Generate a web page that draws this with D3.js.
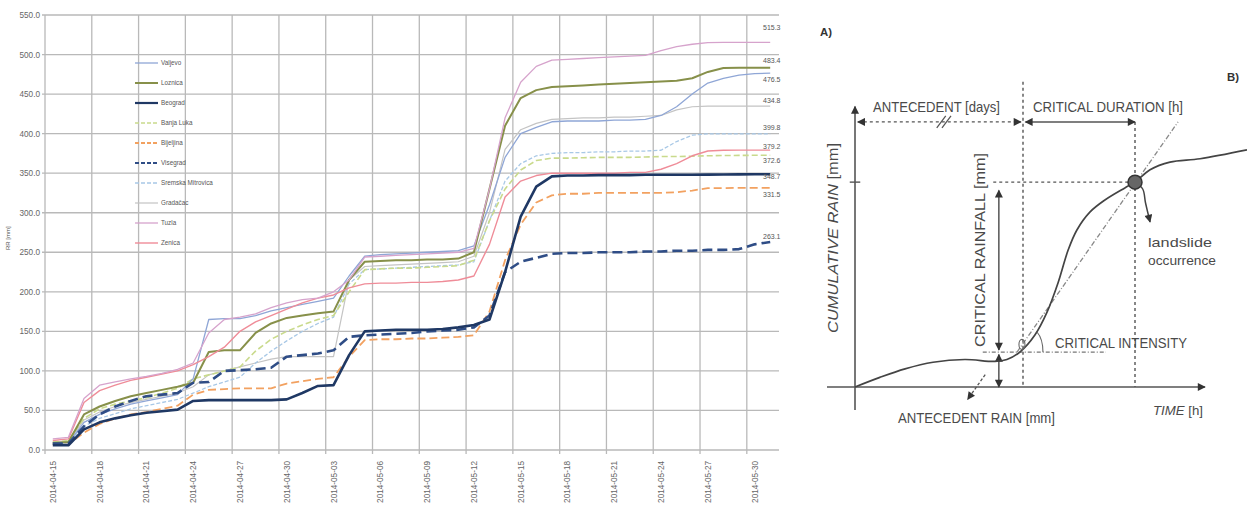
<!DOCTYPE html>
<html><head><meta charset="utf-8">
<script src="https://cdn.jsdelivr.net/npm/d3@7"></script>
<style>body{margin:0;background:#fff}svg{display:block}</style>
</head><body>
<svg id="c" width="1247" height="510"></svg>
<script>
// ---------------- DATA (left chart) ----------------
const stations = ["Valjevo","Loznica","Beograd","Banja Luka","Bijeljina","Visegrad","Sremska Mitrovica","Gradačac","Tuzla","Zenica"];
const valjevo = [8,9,35,45,52,58,62,66,70,90, 165,166,166,170,176,180,184,188,192,220, 245,247,248,249,250,251,252,258,310,370, 400,408,415,416,416,416,417,417,418,423, 434,450,464,470,474,476,476.5];
const loznica = [9,10,45,55,62,68,72,76,80,85, 124,126,126,148,160,167,170,173,175,215, 238,239,240,240,241,241,242,250,330,410, 445,455,459,460,461,462,463,464,465,466, 467,470,478,483,483.4,483.4,483.4];
const beograd = [6,6,26,35,40,44,47,49,51,62, 63,63,63,63,63,64,72,81,82,120, 150,151,152,152,152,153,155,158,165,225, 295,333,346,347,347,347.5,347.5,347.5,348,348, 348,348,348.2,348.4,348.5,348.6,348.7];
const banjaLuka = [10,12,40,52,58,62,66,72,78,90, 95,100,105,125,140,150,158,165,170,200, 228,229,230,230,231,232,233,240,290,330, 354,366,369,369,369.5,370,370,370,370.5,371, 371,371.5,372,372.3,372.5,372.6,372.6];
const bijeljina = [7,7,22,33,40,45,48,52,56,70, 76,77,78,78,78,84,87,90,92,118, 139,140,140,141,141,142,143,145,175,240, 285,313,322,324,324,325,325,325,325,325, 326,328,331,331,331.5,331.5,331.5];
const visegrad = [8,8,30,45,55,62,68,70,72,85, 86,100,101,102,104,118,120,122,126,143, 145,146,147,148,150,151,152,155,170,225, 238,243,248,249,249,250,250,250,251,251, 252,252,253,253,254,260,263.1];
const sremska = [9,10,30,40,46,52,56,60,64,72, 80,86,92,110,125,138,150,160,168,210, 228,229,230,231,232,233,234,238,290,340, 362,372,375,376,376,377,377,378,378,379, 390,398,399.8,399.8,399.8,399.8,399.8];
const gradacac = [10,11,38,48,55,60,64,68,72,80, 95,100,105,110,115,118,118,118,118,215, 232,233,234,235,236,237,238,245,300,380, 405,413,418,419,420,420,421,421,422,423, 430,434,434.8,434.8,434.8,434.8,434.8];
const tuzla = [14,16,65,82,86,90,93,97,102,110, 148,165,168,172,180,186,190,192,200,215, 244,245,246,247,248,249,250,255,330,420, 465,485,493,494,495,496,497,498,499,505, 510,513,515,515.3,515.3,515.3,515.3];
const zenica = [12,14,60,75,82,88,92,96,100,108, 118,130,150,162,170,178,186,192,196,205, 210,211,211,212,212,213,215,220,260,320, 340,347,350,350,350,350,350,351,351,355, 362,372,378,379,379.2,379.2,379.2];
const seriesValues = [valjevo,loznica,beograd,banjaLuka,bijeljina,visegrad,sremska,gradacac,tuzla,zenica];
const yTicks = [0,50,100,150,200,250,300,350,400,450,500,550];
const xTickLabels = ["2014-04-15","2014-04-18","2014-04-21","2014-04-24","2014-04-27","2014-04-30","2014-05-03","2014-05-06","2014-05-09","2014-05-12","2014-05-15","2014-05-18","2014-05-21","2014-05-24","2014-05-27","2014-05-30"];
const days = d3.timeDay.range(new Date(2014,3,15), new Date(2014,5,1));

// styles (kept apart from data)
const colors = ["#8fa6d6","#87904a","#1f3864","#c9da8c","#f2a160","#2f4d86","#a8c8e6","#c4c4c4","#d6a3cc","#ef8c98"];
const widths = [1.3,2,2.6,1.6,1.8,2.6,1.3,1.2,1.3,1.4];
const dashes = [null,null,null,"6,3","8,4","10,5","4,2",null,null,null];
const labelDy = [7,-7,3,6,7.5,-4.5,-6,-5.5,-14,-3.5];

const svg = d3.select("#c");
const fmt = d3.format(".1f");
const xb = d3.scaleBand().domain(days.map(d=>+d)).range([45,778]).paddingInner(0).paddingOuter(0);
const xc = i => xb(+days[i]) + xb.bandwidth()/2;
const y = d3.scaleLinear().domain([0,550]).range([450,15]);

// grid
const g = svg.append("g");
g.selectAll("line.h").data(yTicks).join("line")
  .attr("x1",42).attr("x2",779).attr("y1",d=>y(d)).attr("y2",d=>y(d))
  .attr("stroke","#b9b9b9").attr("stroke-width",1.3);
const vIdx = d3.range(0, days.length, 3);
g.selectAll("line.v").data(vIdx).join("line")
  .attr("x1",i=>xb(+days[i])).attr("x2",i=>xb(+days[i]))
  .attr("y1",y(550)).attr("y2",y(0)+4)
  .attr("stroke","#b9b9b9").attr("stroke-width",1.3);

// y labels
g.selectAll("text.yl").data(yTicks).join("text")
  .attr("x",40).attr("y",d=>y(d)+3).attr("text-anchor","end")
  .attr("font-family","Liberation Sans, Arial").attr("font-size",8.2).attr("fill","#666")
  .text(d=>fmt(d));
// x labels
g.selectAll("text.xl").data(xTickLabels).join("text")
  .attr("transform",(d,k)=>`translate(${xc(k*3)+3},${461}) rotate(-90)`)
  .attr("text-anchor","end")
  .attr("font-family","Liberation Sans, Arial").attr("font-size",8.2).attr("fill","#666")
  .text(d=>d);
// y title
g.append("text").attr("transform","translate(10,250) rotate(-90)")
  .attr("font-family","Liberation Sans, Arial").attr("font-size",6).attr("fill","#555").text("RR [mm]");

// lines
const line = d3.line().x((d,i)=>xc(i)).y(d=>y(d));
const order = [7,6,3,4,0,1,9,8,5,2];
order.forEach(s=>{
  svg.append("path").datum(seriesValues[s]).attr("d",line)
    .attr("fill","none").attr("stroke",colors[s]).attr("stroke-width",widths[s])
    .attr("stroke-dasharray",dashes[s]).attr("stroke-linejoin","round");
});
// end labels
svg.selectAll("text.end").data(seriesValues).join("text")
  .attr("x",763).attr("y",(d,s)=>y(d[d.length-1])+labelDy[s]+2)
  .attr("font-family","Liberation Sans, Arial").attr("font-size",7).attr("fill","#555")
  .text(d=>fmt(d[d.length-1]));

// legend
const lg = svg.append("g");
stations.forEach((n,s)=>{
  const yy = 63 + s*20;
  lg.append("line").attr("x1",135).attr("x2",158).attr("y1",yy).attr("y2",yy)
    .attr("stroke",colors[s]).attr("stroke-width",Math.min(widths[s],2.2)).attr("stroke-dasharray",dashes[s]?"4,2":null);
  lg.append("text").attr("x",161).attr("y",yy+2.2).attr("font-family","Liberation Sans, Arial")
    .attr("font-size",6.3).attr("fill","#555").text(n);
});

// ---------------- Schematic diagram (right) ----------------
const dx = d3.scaleLinear().domain([0,1]).range([855,1205]);
const dy = d3.scaleLinear().domain([0,1]).range([387,112]);
const curveT = [0,0.071,0.143,0.223,0.314,0.4,0.434,0.471,0.514,0.549,0.58,0.609,0.634,0.671,0.714,0.771,0.8,0.843,0.9,0.986,1.12];
const curveR = [0,0.035,0.066,0.09,0.1,0.093,0.1,0.127,0.189,0.273,0.378,0.498,0.571,0.636,0.68,0.724,0.745,0.79,0.818,0.83,0.862];
const tOnset = 0.48, tSlide = 0.8, rSlide = 0.745, rOnset = 0.127, tArrow = 0.411;
const dg = svg.append("g");
const ink = "#555";
const defs = svg.append("defs");
function mk(id){
  defs.append("marker").attr("id",id).attr("viewBox","0 0 10 10").attr("refX",9).attr("refY",5)
    .attr("markerWidth",9).attr("markerHeight",8).attr("markerUnits","userSpaceOnUse").attr("orient","auto-start-reverse")
    .append("path").attr("d","M0,0 L10,5 L0,10 Z").attr("fill","#333");
}
mk("ah");
// axes
dg.append("line").attr("x1",dx(-0.08)).attr("x2",dx(1)).attr("y1",dy(0)).attr("y2",dy(0))
  .attr("stroke",ink).attr("stroke-width",1.6).attr("marker-end","url(#ah)");
dg.append("line").attr("x1",dx(0)).attr("x2",dx(0)).attr("y1",dy(-0.084)).attr("y2",dy(1.02))
  .attr("stroke",ink).attr("stroke-width",1.6).attr("marker-end","url(#ah)");
dg.append("line").attr("x1",dx(-0.015)).attr("x2",dx(0.015)).attr("y1",dy(rSlide)).attr("y2",dy(rSlide)).attr("stroke",ink).attr("stroke-width",1.4);
// dashed verticals and horizontals
dg.append("line").attr("x1",dx(tOnset)).attr("x2",dx(tOnset)).attr("y1",dy(1.11)).attr("y2",dy(0))
  .attr("stroke",ink).attr("stroke-width",1.4).attr("stroke-dasharray","3,3");
dg.append("line").attr("x1",dx(tSlide)).attr("x2",dx(tSlide)).attr("y1",dy(0.964)).attr("y2",dy(0))
  .attr("stroke",ink).attr("stroke-width",1.4).attr("stroke-dasharray","3,3");
dg.append("line").attr("x1",dx(0.395)).attr("x2",dx(tSlide)).attr("y1",dy(rSlide)).attr("y2",dy(rSlide))
  .attr("stroke",ink).attr("stroke-width",1.4).attr("stroke-dasharray","3,3");
// antecedent dashed arrow
dg.append("line").attr("x1",dx(0.008)).attr("x2",dx(0.474)).attr("y1",dy(0.964)).attr("y2",dy(0.964))
  .attr("stroke",ink).attr("stroke-width",1.4).attr("stroke-dasharray","3,3")
  .attr("marker-start","url(#ah)").attr("marker-end","url(#ah)");
[0.245,0.26].forEach(t=>dg.append("line").attr("x1",dx(t)-4).attr("x2",dx(t)+5).attr("y1",dy(0.964)+6).attr("y2",dy(0.964)-6).attr("stroke",ink).attr("stroke-width",1.2));
// critical duration arrow
dg.append("line").attr("x1",dx(0.487)).attr("x2",dx(tSlide)).attr("y1",dy(0.964)).attr("y2",dy(0.964))
  .attr("stroke",ink).attr("stroke-width",1.5).attr("marker-start","url(#ah)").attr("marker-end","url(#ah)");
// critical rainfall arrow
dg.append("line").attr("x1",dx(tArrow)).attr("x2",dx(tArrow)).attr("y1",dy(rSlide-0.03)).attr("y2",dy(0.135))
  .attr("stroke",ink).attr("stroke-width",1.5).attr("marker-start","url(#ah)").attr("marker-end","url(#ah)");
dg.append("line").attr("x1",dx(tArrow)).attr("x2",dx(tArrow)).attr("y1",dy(0.118)).attr("y2",dy(0))
  .attr("stroke",ink).attr("stroke-width",1.5).attr("marker-start","url(#ah)").attr("marker-end","url(#ah)");
// critical intensity dash-dot horizontal
dg.append("line").attr("x1",dx(0.365)).attr("x2",dx(0.717)).attr("y1",dy(rOnset)).attr("y2",dy(rOnset))
  .attr("stroke","#777").attr("stroke-width",1.3).attr("stroke-dasharray","4,2,1,2");
// dash-dot diagonal
dg.append("line").attr("x1",dx(0.463)).attr("x2",dx(0.923)).attr("y1",dy(0.127)).attr("y2",dy(0.964))
  .attr("stroke","#888").attr("stroke-width",1.3).attr("stroke-dasharray","5,2,1,2");
// rainfall curve
dg.append("path").datum(d3.zip(curveT,curveR))
  .attr("d",d3.line().x(d=>dx(d[0])).y(d=>dy(d[1])).curve(d3.curveCatmullRom))
  .attr("fill","none").attr("stroke","#444").attr("stroke-width",1.7);
// landslide arrow
dg.append("path").datum([[tSlide,rSlide],[0.822,0.72],[0.83,0.67],[0.843,0.6]])
  .attr("d",d3.line().x(d=>dx(d[0])).y(d=>dy(d[1])).curve(d3.curveCatmullRom))
  .attr("fill","none").attr("stroke","#444").attr("stroke-width",1.5).attr("marker-end","url(#ah)");
// antecedent rain pointer
dg.append("line").attr("x1",dx(0.372)).attr("x2",dx(0.322)).attr("y1",dy(0.045)).attr("y2",dy(-0.045))
  .attr("stroke",ink).attr("stroke-width",1.3).attr("stroke-dasharray","3,2").attr("marker-end","url(#ah)");
// landslide circle
dg.append("circle").attr("cx",dx(tSlide)).attr("cy",dy(rSlide)).attr("r",7)
  .attr("fill","#666").attr("stroke","#333").attr("stroke-width",1.5);
// angle marks
dg.append("ellipse").attr("cx",dx(0.477)).attr("cy",dy(0.155)).attr("rx",3).attr("ry",5)
  .attr("fill","none").attr("stroke","#666").attr("stroke-width",1.1);
dg.append("path").attr("d",`M${dx(0.537)},${dy(0.127)} Q${dx(0.537)},${dy(0.175)} ${dx(0.52)},${dy(0.2)}`)
  .attr("fill","none").attr("stroke","#666").attr("stroke-width",1.1);

// texts
const T = (txt,x,yy,len,opt={})=>{
  const t = dg.append("text").attr("x",x).attr("y",yy)
    .attr("font-family","Liberation Sans Narrow, Liberation Sans, Arial").attr("font-size",opt.fs||14)
    .attr("fill",opt.fill||"#4a4a4a").attr("font-style",opt.it?"italic":null).attr("font-weight",opt.bold?"bold":null)
    .attr("textLength",len).attr("lengthAdjust","spacingAndGlyphs");
  if(opt.rot) t.attr("transform",`rotate(-90,${x},${yy})`);
  t.text(txt); return t;
};
T("ANTECEDENT [days]",873,112,127);
T("CRITICAL DURATION [h]",1033,112,150);
T("CRITICAL INTENSITY",1055,348,132);
T("landslide",1148,247,64,{fs:13});
T("occurrence",1148,265,68,{fs:13});
T("ANTECEDENT RAIN [mm]",898,423,157);
const tt = dg.append("text").attr("x",1153).attr("y",415).attr("font-family","Liberation Sans Narrow, Liberation Sans, Arial")
  .attr("font-size",13).attr("fill","#4a4a4a").attr("textLength",50).attr("lengthAdjust","spacingAndGlyphs");
tt.append("tspan").attr("font-style","italic").text("TIME");
tt.append("tspan").text(" [h]");
const ct = dg.append("text").attr("x",838).attr("y",333).attr("transform","rotate(-90,838,333)")
  .attr("font-family","Liberation Sans Narrow, Liberation Sans, Arial").attr("font-size",14).attr("fill","#4a4a4a")
  .attr("textLength",190).attr("lengthAdjust","spacingAndGlyphs");
ct.append("tspan").attr("font-style","italic").text("CUMULATIVE RAIN ");
ct.append("tspan").text(" [mm]");
T("CRITICAL RAINFALL [mm]",985,347,194,{rot:true});
T("A)",820,36,12,{fs:10,bold:true,fill:"#333"});
T("B)",1227,81,12,{fs:10,bold:true,fill:"#333"});
</script>
</body></html>
